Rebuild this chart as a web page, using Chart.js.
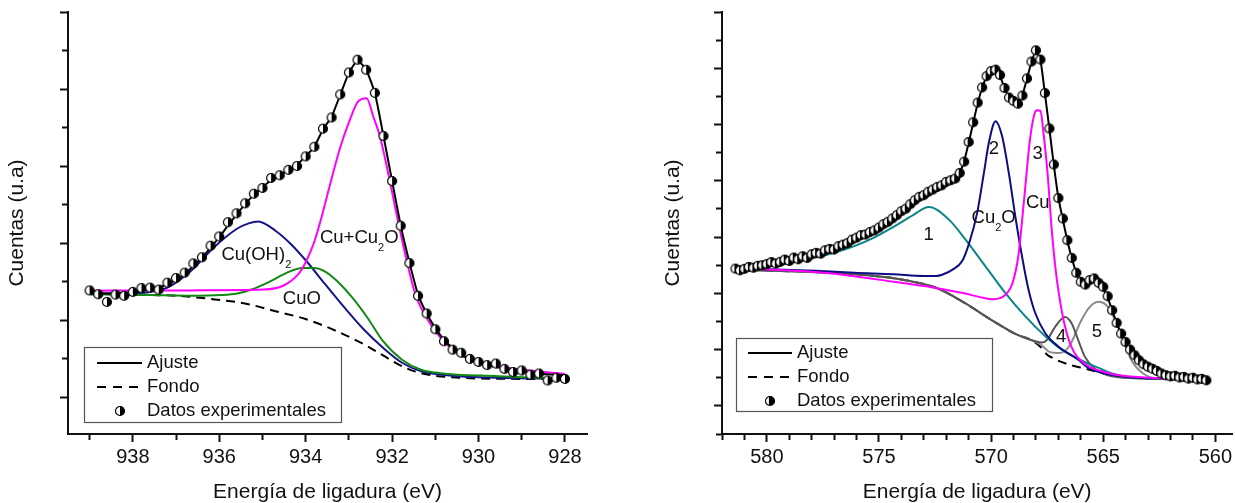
<!DOCTYPE html>
<html><head><meta charset="utf-8">
<script src="https://cdn.jsdelivr.net/npm/chart.js@4.4.1/dist/chart.umd.min.js"></script>
<style>
html,body{margin:0;padding:0;background:#fff;}
#wrap{position:relative;width:1235px;height:503px;overflow:hidden;background:#fff;}
#c1{position:absolute;left:0;top:0;width:617px;height:503px;}
#c2{position:absolute;left:617px;top:0;width:618px;height:503px;}
</style></head><body>
<div id="wrap"><canvas id="c1" width="617" height="503"></canvas><canvas id="c2" width="618" height="503"></canvas></div>
<script>
// ---------------- LEFT PANEL DATA (Cu 2p3/2) ----------------
const leftEnergy = [939.0,938.8,938.6,938.4,938.2,938.0,937.8,937.6,937.4,937.2,937.0,936.8,936.6,936.4,936.2,936.0,935.8,935.6,935.4,935.2,935.0,934.8,934.6,934.4,934.2,934.0,933.8,933.6,933.4,933.2,933.0,932.8,932.6,932.4,932.2,932.0,931.8,931.6,931.4,931.2,931.0,930.8,930.6,930.4,930.2,930.0,929.8,929.6,929.4,929.2,929.0,928.8,928.6,928.4,928.2,928.0];
const leftPoints = [2.77,2.67,2.47,2.66,2.63,2.73,2.83,2.84,2.79,2.97,3.09,3.23,3.47,3.63,3.93,4.17,4.54,4.77,5.03,5.28,5.43,5.69,5.76,5.90,6.00,6.25,6.50,6.97,7.26,7.86,8.43,8.76,8.50,7.90,6.78,5.61,4.45,3.48,2.63,2.17,1.76,1.45,1.23,1.15,0.99,0.91,0.83,0.87,0.73,0.65,0.69,0.58,0.61,0.43,0.50,0.47];
const leftFit = [2.70,2.69,2.69,2.70,2.71,2.73,2.76,2.80,2.85,2.93,3.04,3.19,3.40,3.62,3.88,4.15,4.45,4.74,5.01,5.25,5.45,5.63,5.77,5.90,6.04,6.25,6.50,6.95,7.28,7.85,8.42,8.74,8.50,7.90,6.78,5.61,4.45,3.50,2.66,2.17,1.79,1.49,1.27,1.11,0.99,0.90,0.83,0.78,0.73,0.69,0.66,0.63,0.61,0.59,0.58,0.57];

const cuCu2oE = [938.96,936.65,934.97,934.52,934.17,934.0,933.81,933.67,933.44,933.21,932.98,932.79,932.59,932.44,932.28,932.09,931.9,931.7,931.47,931.2,930.9,930.44,929.55,928.67,928.0];
const cuCu2oV = [2.76,2.77,2.79,2.89,3.19,3.50,4.00,4.52,5.50,6.45,7.19,7.67,7.76,7.30,6.76,5.81,4.77,3.73,2.70,2.05,1.57,1.10,0.80,0.67,0.60];

const cuoE = [938.96,937.54,936.65,935.94,935.59,935.23,934.88,934.43,934.08,933.81,933.55,933.28,932.92,932.57,932.21,931.77,931.33,930.88,929.55,928.0];
const cuoV = [2.67,2.65,2.63,2.65,2.69,2.80,2.97,3.23,3.35,3.35,3.26,3.02,2.58,2.06,1.45,0.97,0.71,0.62,0.54,0.47];

const cuoh2E = [938.96,938.0,937.6,937.2,936.65,936.12,935.59,935.32,935.1,934.7,934.34,933.99,933.55,933.1,932.66,932.21,931.77,931.33,930.44,929.55,928.0];
const cuoh2V = [2.69,2.70,2.73,2.84,3.28,3.89,4.37,4.51,4.56,4.32,3.97,3.54,2.93,2.32,1.76,1.28,0.89,0.67,0.54,0.50,0.47];

const leftBgE = [938.96,938.0,937.54,937.0,936.3,935.41,934.7,933.99,933.28,932.57,932.21,931.77,931.33,930.44,929.0,928.0];
const leftBgV = [2.67,2.66,2.65,2.63,2.56,2.43,2.23,2.02,1.71,1.32,1.08,0.80,0.62,0.50,0.47,0.46];

const leftNotes = [
  {x:935.95, y:3.69, parts:[['Cu(OH)',0],['2',1]], align:'left'},
  {x:933.67, y:4.13, parts:[['Cu+Cu',0],['2',1],['O',0]], align:'left'},
  {x:934.53, y:2.55, parts:[['CuO',0]], align:'left'}
];

// ---------------- RIGHT PANEL DATA (Cu LMM) ----------------
const rightEnergy = [581.4,581.2,581.0,580.8,580.6,580.4,580.2,580.0,579.8,579.6,579.4,579.2,579.0,578.8,578.6,578.4,578.2,578.0,577.8,577.6,577.4,577.2,577.0,576.8,576.6,576.4,576.2,576.0,575.8,575.6,575.4,575.2,575.0,574.8,574.6,574.4,574.2,574.0,573.8,573.6,573.4,573.2,573.0,572.8,572.6,572.4,572.2,572.0,571.8,571.6,571.4,571.2,571.0,570.8,570.6,570.4,570.2,570.0,569.8,569.6,569.4,569.2,569.0,568.8,568.6,568.4,568.2,568.0,567.8,567.6,567.4,567.2,567.0,566.8,566.6,566.4,566.2,566.0,565.8,565.6,565.4,565.2,565.0,564.8,564.6,564.4,564.2,564.0,563.8,563.6,563.4,563.2,563.0,562.8,562.6,562.4,562.2,562.0,561.8,561.6,561.4,561.2,561.0,560.8,560.6,560.4];
const rightPoints = [4.88,4.82,4.87,4.94,4.91,4.98,5.00,5.04,5.11,5.06,5.12,5.20,5.15,5.27,5.21,5.32,5.26,5.39,5.44,5.41,5.53,5.58,5.56,5.68,5.73,5.79,5.91,5.98,6.07,6.09,6.18,6.24,6.34,6.46,6.54,6.66,6.78,6.92,7.01,7.17,7.31,7.43,7.49,7.61,7.69,7.78,7.84,7.96,8.02,8.08,8.28,8.68,9.38,10.08,10.78,11.32,11.72,11.90,11.95,11.76,11.30,10.96,10.84,10.74,11.03,11.64,12.24,12.64,12.31,11.12,9.86,8.58,7.39,6.66,5.89,5.26,4.73,4.41,4.31,4.47,4.53,4.37,4.23,3.90,3.40,2.95,2.57,2.27,2.00,1.80,1.62,1.48,1.39,1.32,1.24,1.15,1.09,1.05,1.07,1.01,1.03,0.97,1.00,0.94,0.96,0.91];
const rightFit = [4.88,4.87,4.88,4.91,4.94,4.97,5.00,5.03,5.07,5.10,5.13,5.17,5.20,5.24,5.27,5.30,5.34,5.38,5.42,5.46,5.51,5.56,5.61,5.67,5.73,5.80,5.88,5.96,6.04,6.11,6.18,6.26,6.35,6.45,6.55,6.66,6.78,6.90,7.02,7.15,7.28,7.40,7.50,7.60,7.69,7.77,7.85,7.94,8.02,8.10,8.30,8.70,9.35,10.05,10.75,11.30,11.70,11.90,11.92,11.72,11.30,10.98,10.82,10.76,11.05,11.62,12.22,12.60,12.30,11.10,9.85,8.55,7.40,6.62,5.88,5.25,4.75,4.45,4.33,4.40,4.45,4.35,4.15,3.85,3.40,2.95,2.57,2.27,2.01,1.80,1.62,1.48,1.38,1.30,1.23,1.16,1.11,1.07,1.04,1.02,1.00,0.98,0.97,0.96,0.95,0.94];

const peak1E = [581.4,579.57,578.7,577.83,576.96,576.1,575.22,574.35,573.48,572.78,571.88,571.14,570.25,569.36,568.47,567.58,566.84,565.8,565.2,564.6,563.9,562.2,560.4];
const peak1V = [4.94,5.02,5.12,5.27,5.45,5.68,5.98,6.36,6.78,7.07,6.62,5.91,4.96,4.01,3.18,2.47,1.99,1.55,1.35,1.15,1.03,0.97,0.94];

const peak2E = [581.4,579.57,577.83,576.1,574.35,573.0,572.45,572.18,571.7,571.29,570.99,570.62,570.32,570.10,569.80,569.51,569.21,568.92,568.62,568.33,568.03,567.59,567.0,566.11,565.66,563.9,562.18,560.4];
const peak2V = [4.88,4.85,4.80,4.73,4.68,4.62,4.62,4.66,4.85,5.15,5.75,6.86,8.28,9.35,10.12,9.59,8.28,6.74,5.31,4.13,3.30,2.59,2.11,1.64,1.35,1.03,0.97,0.94];

const peak3E = [581.4,577.83,576.1,574.35,572.6,571.2,570.35,569.92,569.57,569.31,569.05,568.79,568.53,568.27,568.06,567.95,567.8,567.66,567.48,567.3,567.13,566.96,566.7,566.35,565.83,564.79,563.9,562.2,560.4];
const peak3V = [4.90,4.76,4.61,4.41,4.21,4.00,3.84,3.79,3.84,3.99,4.35,5.30,7.31,9.44,10.39,10.51,10.49,9.68,8.26,6.30,4.90,3.90,2.81,1.98,1.50,1.17,1.05,0.97,0.94];

const peak4E = [581.4,576.1,574.2,572.4,571.14,569.96,568.92,568.18,567.74,567.5,567.15,566.71,566.41,566.12,565.82,565.38,564.79,563.5,562.0,560.4];
const peak4V = [4.85,4.68,4.52,4.18,3.64,3.04,2.56,2.33,2.25,2.35,2.80,3.16,2.94,2.35,1.75,1.33,1.09,0.98,0.95,0.94];

const peak5E = [581.4,576.1,574.2,572.4,571.14,569.96,568.92,568.18,567.74,567.4,566.96,566.53,566.0,565.66,565.22,564.79,564.27,563.74,563.22,562.53,560.4];
const peak5V = [4.85,4.68,4.52,4.18,3.64,3.04,2.56,2.33,2.15,1.92,1.88,2.10,3.00,3.46,3.70,3.52,2.69,1.62,1.15,0.97,0.94];

const rightBgE = [581.4,576.1,574.2,572.4,571.14,569.96,568.92,568.18,567.8,567.5,567.3,566.9,566.5,566.0,565.4,564.8,563.5,562.0,560.4];
const rightBgV = [4.85,4.68,4.52,4.18,3.64,3.04,2.56,2.33,2.10,1.82,1.72,1.57,1.46,1.36,1.24,1.12,0.99,0.95,0.93];

const rightNotes = [
  {x:572.78, y:6.09, parts:[['1',0]], align:'center'},
  {x:569.87, y:9.15, parts:[['2',0]], align:'center'},
  {x:567.92, y:8.97, parts:[['3',0]], align:'center'},
  {x:567.92, y:7.22, parts:[['Cu',0]], align:'center'},
  {x:570.87, y:6.69, parts:[['Cu',0],['2',1],['O',0]], align:'left'},
  {x:566.87, y:2.46, parts:[['4',0]], align:'center'},
  {x:565.28, y:2.63, parts:[['5',0]], align:'center'}
];

const legendLabels = ['Ajuste','Fondo','Datos experimentales'];
const xTitle = 'Energía de ligadura (eV)';
const yTitle = 'Cuentas (u.a)';

// ---------------- helpers ----------------
const FONT = "'Liberation Sans', Arial, Helvetica, sans-serif";
const INK = '#111';
Chart.defaults.font.family = FONT;
Chart.defaults.color = INK;

function xy(E, V){ return E.map((e,i)=>({x:e, y:V[i]})); }

function makeMarker(r, whiteFrac){
  const s = Math.ceil(2*r + 3);
  const c = document.createElement('canvas');
  c.width = s; c.height = s;
  const g = c.getContext('2d');
  const cx = s/2, cy = s/2;
  g.beginPath(); g.arc(cx, cy, r, 0, Math.PI*2); g.fillStyle = '#000'; g.fill();
  g.save(); g.beginPath(); g.arc(cx, cy, r, 0, Math.PI*2); g.clip();
  g.fillStyle = '#fff'; g.fillRect(cx - r - 1, cy - r - 1, 2*r*whiteFrac + 1, 2*r + 2);
  g.restore();
  g.beginPath(); g.arc(cx, cy, r, 0, Math.PI*2); g.lineWidth = 1.2; g.strokeStyle = '#000'; g.stroke();
  return c;
}
const markerL = makeMarker(4.5, 0.5);
const markerR = makeMarker(4.5, 0.38);

function near(v, step){ return Math.abs(v/step - Math.round(v/step)) < 1e-6; }

function drawParts(ctx, parts, x, y, align){
  const mainF = '18.5px ' + FONT, subF = '11px ' + FONT;
  let total = 0;
  const widths = parts.map(p => { ctx.font = p[1] ? subF : mainF; const w = ctx.measureText(p[0]).width; total += w; return w; });
  let cx = align === 'center' ? x - total/2 : x;
  ctx.textAlign = 'left'; ctx.textBaseline = 'middle'; ctx.fillStyle = INK;
  parts.forEach((p,i) => { ctx.font = p[1] ? subF : mainF; ctx.fillText(p[0], cx, p[1] ? y + 10 : y); cx += widths[i]; });
}

const notesPlugin = {
  id: 'notes',
  afterDatasetsDraw(chart, args, opts){
    const ctx = chart.ctx, xs = chart.scales.x, ys = chart.scales.y;
    ctx.save();
    (opts.items || []).forEach(n => drawParts(ctx, n.parts, xs.getPixelForValue(n.x), ys.getPixelForValue(n.y), n.align));
    ctx.restore();
  }
};

const boxLegendPlugin = {
  id: 'boxLegend',
  afterDraw(chart, args, o){
    const ctx = chart.ctx, ca = chart.chartArea;
    const x0 = Math.round(ca.left + o.dx), y0 = Math.round(ca.bottom - o.fromBottom);
    ctx.save();
    ctx.fillStyle = '#fff'; ctx.fillRect(x0, y0, o.w, o.h);
    ctx.strokeStyle = '#555'; ctx.lineWidth = 1.2; ctx.strokeRect(x0 + 0.5, y0 + 0.5, o.w, o.h);
    ctx.font = '18.5px ' + FONT; ctx.fillStyle = INK; ctx.textAlign = 'left'; ctx.textBaseline = 'middle';
    ctx.strokeStyle = '#000'; ctx.lineWidth = 2;
    ctx.beginPath(); ctx.moveTo(x0 + o.sx, y0 + o.rows[0]); ctx.lineTo(x0 + o.sx + o.sw, y0 + o.rows[0]); ctx.stroke();
    ctx.setLineDash([9,7]);
    ctx.beginPath(); ctx.moveTo(x0 + o.sx, y0 + o.rows[1]); ctx.lineTo(x0 + o.sx + o.sw, y0 + o.rows[1]); ctx.stroke();
    ctx.setLineDash([]);
    const m = o.marker;
    ctx.drawImage(m, Math.round(x0 + o.mx - m.width/2), Math.round(y0 + o.rows[2] - m.height/2));
    o.labels.forEach((t,i) => ctx.fillText(t, x0 + o.tx, y0 + o.rows[i]));
    ctx.restore();
  }
};

function xScale(min, max, major, height){
  return {
    type:'linear', position:'bottom', reverse:true, min:min, max:max,
    border:{display:true, color:INK, width:2},
    grid:{drawOnChartArea:false, drawTicks:true, tickLength:8, tickWidth:2, tickColor:INK,
      tickBorderDash: c => (c.tick && near(c.tick.value, major)) ? [] : [5,100]},
    ticks:{stepSize:1, includeBounds:false, autoSkip:false, maxRotation:0, minRotation:0, padding:3,
      font:{size:20}, color:INK, callback: v => near(v, major) ? String(Math.round(v)) : ''},
    title:{display:true, text:xTitle, font:{size:21, lineHeight:1}, color:INK, padding:{top:0, bottom:0}},
    afterFit: s => { s.height = height; }
  };
}
function yScale(min, max, width, titlePad){
  return {
    type:'linear', position:'left', min:min, max:max,
    border:{display:true, color:INK, width:2},
    grid:{drawOnChartArea:false, drawTicks:true, tickLength:8, tickWidth:2, tickColor:INK,
      tickBorderDash: c => (c.tick && near(c.tick.value, 2)) ? [] : [0,2,5,100]},
    ticks:{display:false, stepSize:1, includeBounds:false, autoSkip:false},
    title:{display:true, text:yTitle, font:{size:21, lineHeight:1}, color:INK, padding:{top:titlePad, bottom:0}},
    afterFit: s => { s.width = width; }
  };
}
function line(data, color, width, dash){
  return {data:data, borderColor:color, borderWidth:width||2, borderDash:dash||[], pointRadius:0,
    fill:false, cubicInterpolationMode:'monotone'};
}

// ---------------- LEFT CHART ----------------
new Chart(document.getElementById('c1'), {
  type:'line',
  data:{datasets:[
    {data:xy(leftEnergy, leftPoints), showLine:false, pointStyle:markerL, pointRadius:5, borderColor:'#000', backgroundColor:'#000'},
    Object.assign(line(xy(leftEnergy, leftFit), '#000', 2), {cubicInterpolationMode:'default', tension:0.15}),
    line(xy(cuCu2oE, cuCu2oV), '#ff00ff', 2),
    line(xy(cuoE, cuoV), '#138a13', 2),
    line(xy(cuoh2E, cuoh2V), '#14148a', 2),
    line(xy(leftBgE, leftBgV), '#000', 2, [9,6])
  ]},
  options:{
    responsive:false, animation:false, devicePixelRatio:1,
    layout:{autoPadding:false, padding:{left:0, right:30, top:12, bottom:0}},
    scales:{ x:xScale(927.49, 939.5, 2, 69), y:yScale(-0.96, 10, 68, 7) },
    plugins:{
      legend:{display:false}, tooltip:{enabled:false},
      notes:{items:leftNotes},
      boxLegend:{dx:16, fromBottom:87, w:257, h:75, rows:[16,40,64], sx:13, sw:45, tx:63, mx:36, marker:markerL, labels:legendLabels}
    }
  },
  plugins:[notesPlugin, boxLegendPlugin]
});

// ---------------- RIGHT CHART ----------------
new Chart(document.getElementById('c2'), {
  type:'line',
  data:{datasets:[
    {data:xy(rightEnergy, rightPoints), showLine:false, pointStyle:markerR, pointRadius:5, borderColor:'#000', backgroundColor:'#000'},
    Object.assign(line(xy(rightEnergy, rightFit), '#000', 2), {cubicInterpolationMode:'default', tension:0.15}),
    line(xy(peak3E, peak3V), '#ff00ff', 2),
    line(xy(peak2E, peak2V), '#0d0d85', 2),
    line(xy(peak1E, peak1V), '#0a8585', 2),
    line(xy(peak4E, peak4V), '#555555', 2),
    line(xy(peak5E, peak5V), '#8c8c8c', 2),
    line(xy(rightBgE, rightBgV), '#000', 2, [9,6])
  ]},
  options:{
    responsive:false, animation:false, devicePixelRatio:1,
    layout:{autoPadding:false, padding:{left:0, right:0, top:12, bottom:0}},
    scales:{ x:xScale(559.24, 582.0, 5, 69), y:yScale(-1, 14, 105, 45.5) },
    plugins:{
      legend:{display:false}, tooltip:{enabled:false},
      notes:{items:rightNotes},
      boxLegend:{dx:14, fromBottom:96, w:256, h:73, rows:[15,39,63], sx:12, sw:44, tx:61, mx:34, marker:markerR, labels:legendLabels}
    }
  },
  plugins:[notesPlugin, boxLegendPlugin]
});
</script></body></html>
